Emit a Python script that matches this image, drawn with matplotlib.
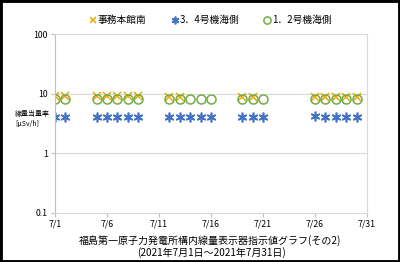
import matplotlib
matplotlib.use("Agg")
import matplotlib.pyplot as plt
from matplotlib.patches import Rectangle
import numpy as np

plt.rcParams['font.family'] = ['Noto Sans CJK JP', 'DejaVu Sans']

# Data (day of July 2021)
days = [1, 2, 5, 6, 7, 8, 9, 12, 13, 14, 15, 16, 19, 20, 21, 26, 27, 28, 29, 30]
honkan = [9.0, 9.0, 9.0, 9.0, 9.0, 9.0, 9.0, 8.9, 8.9, None, None, None, 8.9, 8.9, None, 8.9, 8.9, 8.9, 8.9, 8.9]
unit34 = [4.1, 4.1, 4.1, 4.1, 4.1, 4.1, 4.1, 4.1, 4.1, 4.1, 4.1, 4.1, 4.1, 4.1, 4.1, 4.2, 4.1, 4.1, 4.1, 4.1]
unit12 = [8.2, 8.2, 8.2, 8.2, 8.2, 8.2, 8.2, 8.2, 8.2, 8.2, 8.2, 8.2, 8.2, 8.2, 8.2, 8.2, 8.2, 8.2, 8.2, 8.2]
series_names = ['事務本館南', '3．4号機海側', '1．2号機海側']
xtick_days = [1, 6, 11, 16, 21, 26, 31]
xtick_labels = ['7/1', '7/6', '7/11', '7/16', '7/21', '7/26', '7/31']
ytick_vals = [0.1, 1, 10, 100]
ytick_labels = ['0.1', '1', '10', '100']
title_lines = ['福島第一原子力発電所構内線量表示器指示値グラフ(その2)',
               '(2021年7月1日～2021年7月31日)']
ylabel = '線量当量率\n[μSv/h]'

fig = plt.figure(figsize=(4.0, 2.62), dpi=100)
ax = fig.add_axes([55/400, 1-213/262, (367-55)/400, (213-34)/262])

def clean(vals):
    return np.array([np.nan if v is None else v for v in vals], dtype=float)

ax.plot(days, clean(honkan), linestyle='none', marker='x', color='#EDA800',
        markersize=6, markeredgewidth=1.1, label=series_names[0])
ax.plot(days, clean(unit34), linestyle='none', marker=(6, 2, 0), color='#4472C4',
        markersize=7, markeredgewidth=1.2, label=series_names[1])
ax.plot(days, clean(unit12), linestyle='none', marker='o', markerfacecolor='none',
        markeredgecolor='#70AD47', markersize=6.5, markeredgewidth=1.1, label=series_names[2])

ax.set_yscale('log')
ax.set_ylim(0.1, 100)
ax.set_xlim(1, 31)
ax.set_yticks(ytick_vals)
ax.set_yticklabels(ytick_labels)
ax.yaxis.set_minor_locator(matplotlib.ticker.NullLocator())
ax.set_xticks(xtick_days)
ax.set_xticklabels(xtick_labels)
ax.tick_params(axis='both', labelsize=6.3, length=3, color='#BFBFBF', width=0.8, pad=2)
ax.grid(axis='y', color='#D9D9D9', linewidth=0.8)
for s in ax.spines.values():
    s.set_color('#D9D9D9')
    s.set_linewidth(0.8)
ax.spines['left'].set_color('#BFBFBF')

leg = fig.legend(loc='center', bbox_to_anchor=(0.525, 1-20/262), ncol=3, frameon=False,
                 fontsize=7, handletextpad=0.0, columnspacing=2.4, handlelength=1.0,
                 markerscale=0.8)

fig.text(15/400, 1-119/262, ylabel, fontsize=5, ha='left', va='center', linespacing=1.5)
fig.text(0.525, 1-241/262, title_lines[0], fontsize=7.2, ha='center', va='center')
fig.text(0.53, 1-253/262, title_lines[1], fontsize=7.2, ha='center', va='center')

fig.patches.append(Rectangle((0, 0), 1, 1, transform=fig.transFigure, fill=False,
                             edgecolor='black', linewidth=3.5, zorder=10))

fig.savefig('out.png', dpi=100)
